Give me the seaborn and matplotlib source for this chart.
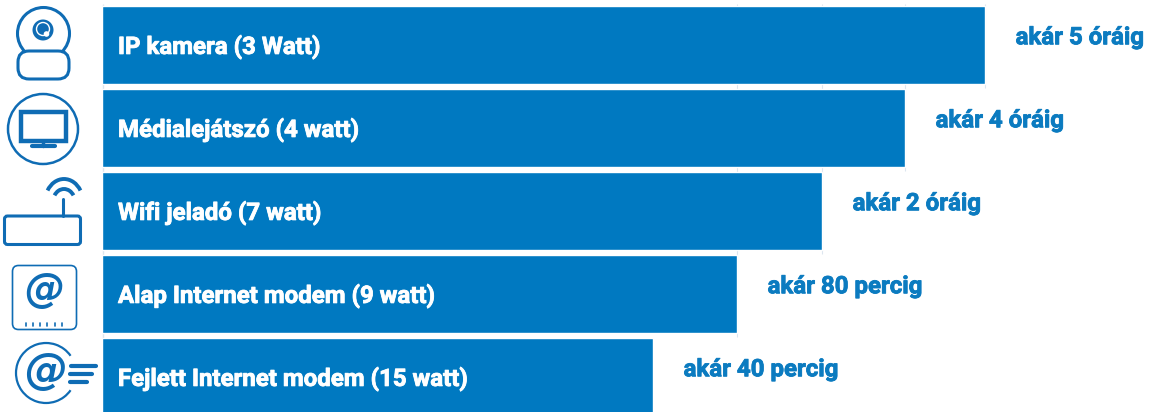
import matplotlib
matplotlib.use("Agg")
import matplotlib.pyplot as plt
from matplotlib.patches import Arc, Circle, FancyBboxPatch, Rectangle
import matplotlib.patheffects as pe
import pandas as pd
import seaborn as sns

# bar lengths (the chart has no axis scale)
categorias = [
    "IP kamera (3 Watt)",
    "Médialejátszó (4 watt)",
    "Wifi jeladó (7 watt)",
    "Alap Internet modem (9 watt)",
    "Fejlett Internet modem (15 watt)",
]
valores = [883, 803, 720, 635, 551]
duracion = ["akár 5 óráig", "akár 4 óráig", "akár 2 óráig", "akár 80 percig", "akár 40 percig"]

AZUL = "#0079c1"
AZUL_ICONO = "#0f6cb4"
FUENTE = ["Roboto", "DejaVu Sans"]

sns.set_theme(style="white")
plt.rcParams["font.family"] = FUENTE

fig = plt.figure(figsize=(11.49, 4.12), dpi=100)
ax = fig.add_axes([102 / 1149, 0, 1047 / 1149, 408 / 412])

df = pd.DataFrame({"categoria": categorias, "valor": valores})
sns.barplot(data=df, y="categoria", x="valor", color=AZUL, saturation=1, width=0.95,
            orient="h", ax=ax, zorder=3)

ax.set_xlim(0, 1047)
ax.set_ylim(4.422, -0.494)
ax.set_xlabel("")
ax.set_ylabel("")
ax.set_xticks([])
ax.set_yticks([])
sns.despine(ax=ax, left=True, bottom=True)

# las lineas guia solo llegan hasta la barra de su valor
for i, v in enumerate(valores[:-1]):
    ax.vlines(v, -0.494, i + 0.52, color="#dce6ef", linewidth=0.8, zorder=1)
ax.vlines(1, -0.494, 4.422, color="#dce6ef", linewidth=1, zorder=1)

for i, (cat, v, dur) in enumerate(zip(categorias, valores, duracion)):
    ax.annotate(cat, (0, i), xytext=(11.5, -1.5), textcoords="offset points",
                color="white", fontsize=17.3, fontweight="bold", va="center", ha="left", zorder=4,
                path_effects=[pe.withStroke(linewidth=0.6, foreground="white")])
    ax.annotate(dur, (v, i), xytext=(22, 5.2), textcoords="offset points",
                color="#0b7bc0", fontsize=17.3, fontweight="bold", va="center", ha="left",
                path_effects=[pe.withStroke(linewidth=0.6, foreground="#0b7bc0")])

# iconos en coordenadas de pixel
ic = fig.add_axes([0, 0, 1, 1], facecolor="none")
ic.set_xlim(0, 1149)
ic.set_ylim(412, 0)
ic.axis("off")
kw = dict(fill=False, edgecolor=AZUL_ICONO, linewidth=2.2)

# camara
ic.add_patch(Circle((43.5, 33.5), 26, facecolor="white", edgecolor=AZUL_ICONO, linewidth=2.2, zorder=3))
ic.add_patch(FancyBboxPatch((18, 51), 51, 28, boxstyle="round,pad=0,rounding_size=11",
                            facecolor="white", edgecolor=AZUL_ICONO, linewidth=2.2, zorder=4))
ic.add_patch(Circle((43, 30), 10.5, facecolor=AZUL_ICONO, edgecolor="none", zorder=5))
ic.add_patch(Circle((43, 29), 6.5, fill=False, edgecolor="white", linewidth=1, zorder=6))
ic.add_patch(Circle((46.5, 34), 2.8, facecolor="white", edgecolor="none", zorder=6))

# monitor
ic.add_patch(Circle((43, 129), 35, fill=False, edgecolor=AZUL_ICONO, linewidth=1.8))
ic.add_patch(Rectangle((21, 112), 45, 29, fill=False, edgecolor=AZUL_ICONO, linewidth=3.2))
ic.plot([43, 43], [141, 146], color=AZUL_ICONO, linewidth=2.5)
ic.plot([32, 55], [146, 146], color=AZUL_ICONO, linewidth=3)

# wifi
ic.add_patch(FancyBboxPatch((4.5, 216), 76, 28.5, boxstyle="round,pad=0,rounding_size=3", **kw))
ic.plot([63, 63], [199, 216], color=AZUL_ICONO, linewidth=2.2)
ic.add_patch(Arc((64, 202), 38, 46, theta1=215, theta2=325, edgecolor=AZUL_ICONO, linewidth=2.8))
ic.add_patch(Arc((64, 202), 22, 26, theta1=215, theta2=325, edgecolor=AZUL_ICONO, linewidth=2.8))

# modem
ic.add_patch(FancyBboxPatch((12.5, 265.5), 64, 64, boxstyle="round,pad=0,rounding_size=6",
                            fill=False, edgecolor=AZUL_ICONO, linewidth=1.2))
ic.text(44.5, 291, "@", color=AZUL_ICONO, fontsize=29, fontweight="bold", fontstyle="oblique",
        family="DejaVu Sans", ha="center", va="center")
for x in [26, 33, 40, 47, 55, 62]:
    ic.plot([x, x], [323, 326], color=AZUL_ICONO, linewidth=1.2)

# modem avanzado
ic.add_patch(Arc((46, 373), 60, 60, theta1=35, theta2=325, edgecolor=AZUL_ICONO, linewidth=1.6))
ic.text(46, 372, "@", color=AZUL_ICONO, fontsize=31, fontweight="bold", fontstyle="oblique",
        family="DejaVu Sans", ha="center", va="center")
for y, x0, x1 in [(366, 71, 96), (374, 70, 92), (382, 70, 87)]:
    ic.plot([x0, x1], [y, y], color=AZUL_ICONO, linewidth=3, solid_capstyle="round")

fig.savefig("out.png", dpi=100)
